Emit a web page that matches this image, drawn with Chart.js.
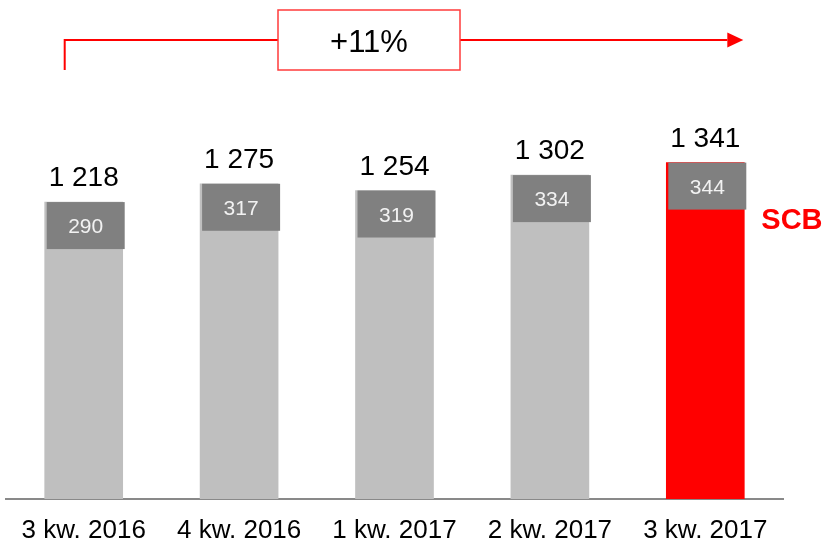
<!DOCTYPE html>
<html>
<head>
<meta charset="utf-8">
<script src="https://cdn.jsdelivr.net/npm/chart.js@4"></script>
<style>
  html, body { margin: 0; padding: 0; background: #fff; }
  #wrap { width: 827px; height: 541px; }
</style>
</head>
<body>
<div id="wrap"><canvas id="c" width="827" height="541"></canvas></div>
<script>
/* kwartały: suma i część SCB */
const kwartaly = ['3 kw. 2016', '4 kw. 2016', '1 kw. 2017', '2 kw. 2017', '3 kw. 2017'];
const suma = [1218, 1275, 1254, 1302, 1341];
const scb = [290, 317, 319, 334, 344];
const wzrost = '+11%';

const SZARY = '#bfbfbf', CZERWONY = '#ff0000', CIEMNY = '#808080';
const fmtTys = v => String(v).replace(/\B(?=(\d{3})+(?!\d))/g, ' ');

/* etykiety: suma nad słupkiem, ramka SCB, podpis SCB */
const etykiety = {
  id: 'etykiety',
  afterDatasetsDraw(chart) {
    const ctx = chart.ctx;
    const bars = chart.getDatasetMeta(0).data;
    ctx.save();
    bars.forEach((b, i) => {
      const w = 78, h = 47;
      const x0 = b.x - w / 2 + 2;
      ctx.fillStyle = CIEMNY;
      ctx.fillRect(x0, b.y, w, h);
      ctx.fillStyle = '#f2f2f2';
      ctx.font = '21px "Liberation Sans", Arial, sans-serif';
      ctx.textAlign = 'center';
      ctx.textBaseline = 'alphabetic';
      ctx.fillText(String(scb[i]), x0 + w / 2, b.y + 31);

      ctx.fillStyle = '#000';
      ctx.font = '28px "Liberation Sans", Arial, sans-serif';
      ctx.fillText(fmtTys(suma[i]), b.x, b.y - 16);
    });

    const last = bars[bars.length - 1];
    ctx.fillStyle = CZERWONY;
    ctx.font = 'bold 29px "Liberation Sans", Arial, sans-serif';
    ctx.textAlign = 'left';
    ctx.fillText('SCB', last.x + 56, last.y + 66);

    /* strzałka wzrostu */
    const xL = bars[0].x - 19, xR = last.x + 38, yL = 40;
    ctx.strokeStyle = CZERWONY;
    ctx.lineWidth = 2;
    ctx.beginPath();
    ctx.moveTo(xL, 70);
    ctx.lineTo(xL, yL);
    ctx.lineTo(278, yL);
    ctx.moveTo(460, yL);
    ctx.lineTo(xR - 16, yL);
    ctx.stroke();
    ctx.fillStyle = CZERWONY;
    ctx.beginPath();
    ctx.moveTo(xR - 16, yL - 7.5);
    ctx.lineTo(xR, yL);
    ctx.lineTo(xR - 16, yL + 7.5);
    ctx.closePath();
    ctx.fill();

    ctx.strokeStyle = '#ff3b3b';
    ctx.lineWidth = 1.5;
    ctx.strokeRect(278, 10, 182, 60);
    ctx.fillStyle = '#000';
    ctx.font = '31px "Liberation Sans", Arial, sans-serif';
    ctx.textAlign = 'center';
    ctx.fillText(wzrost, 369, 52);
    ctx.restore();
  }
};

new Chart(document.getElementById('c'), {
  type: 'bar',
  data: {
    labels: kwartaly,
    datasets: [{
      data: suma,
      backgroundColor: suma.map((_, i) => i === suma.length - 1 ? CZERWONY : SZARY),
      borderWidth: 0,
      barThickness: 78
    }]
  },
  options: {
    responsive: false,
    animation: false,
    events: [],
    layout: { padding: { left: 6, right: 44, top: 100, bottom: 0 } },
    plugins: { legend: { display: false }, tooltip: { enabled: false } },
    scales: {
      x: {
        grid: { display: false, drawTicks: false },
        border: { display: true, color: '#898989', width: 2 },
        ticks: { color: '#000', padding: 16, font: { size: 26, family: '"Liberation Sans", Arial, sans-serif' } },
        afterFit: s => { s.height = 42; }
      },
      y: { display: false, min: 293, max: 1536 }
    }
  },
  plugins: [etykiety]
});
</script>
</body>
</html>
